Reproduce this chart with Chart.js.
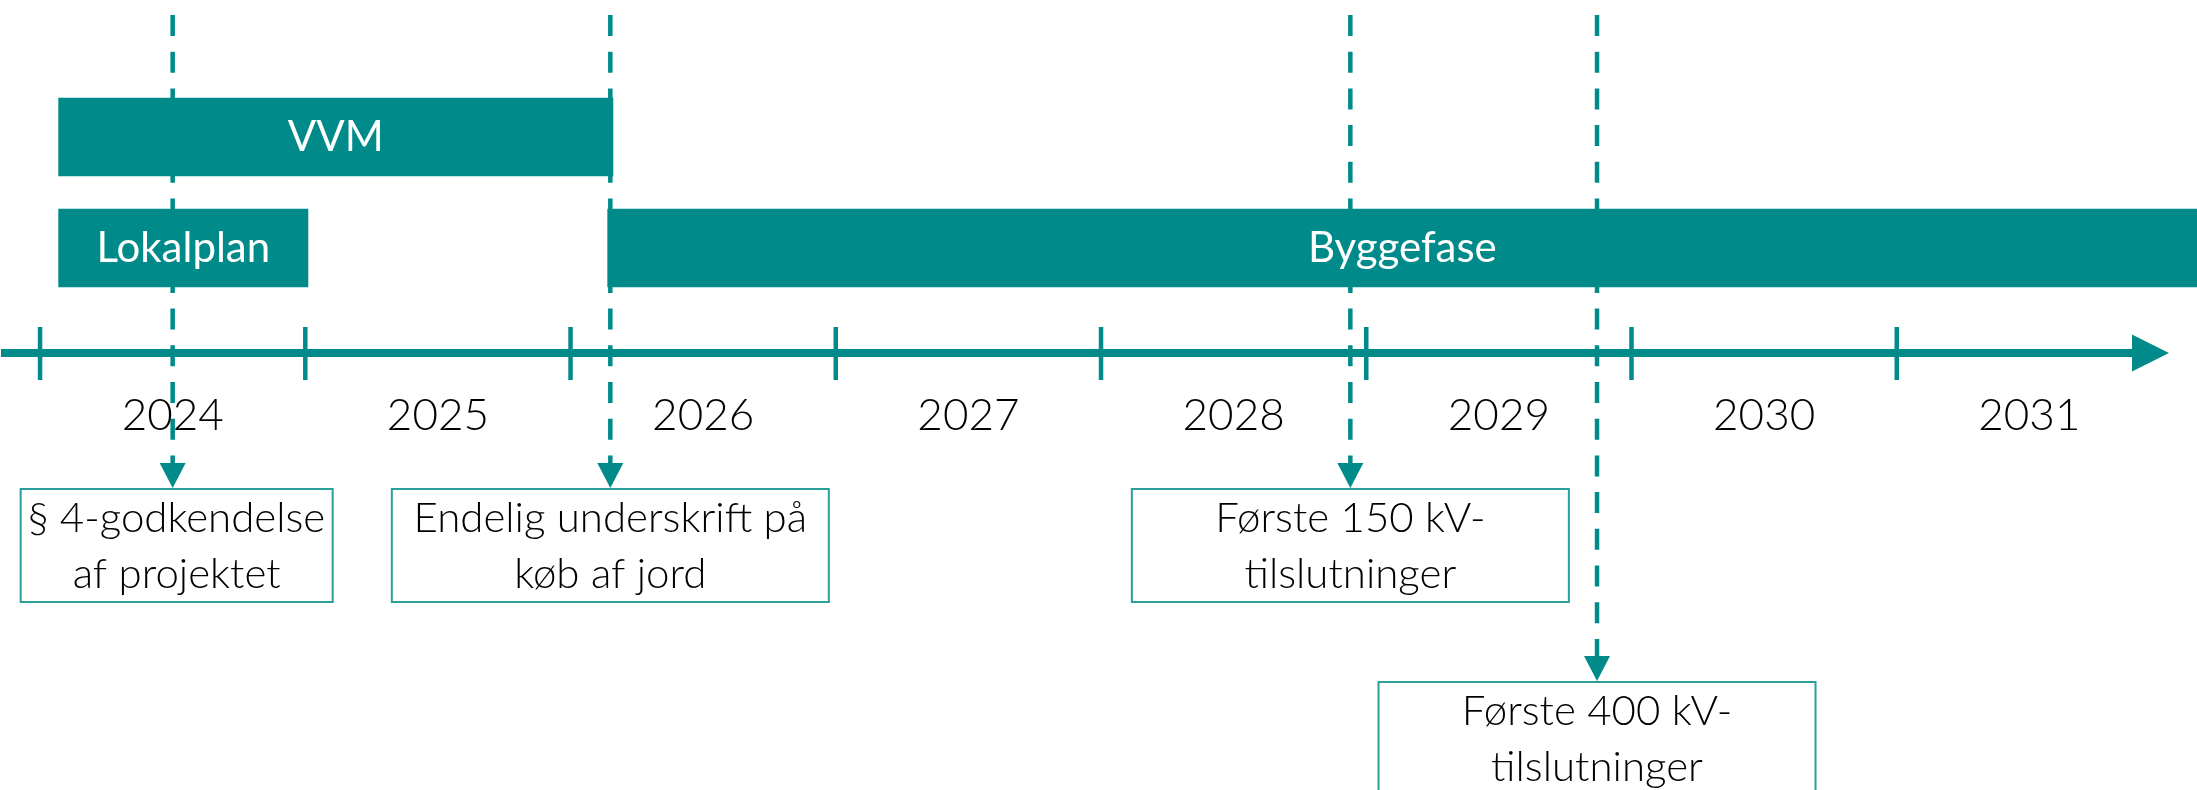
<!DOCTYPE html>
<html>
<head>
<meta charset="utf-8">
<script src="https://cdn.jsdelivr.net/npm/chart.js@4/dist/chart.umd.min.js"></script>
<style>
html,body{margin:0;padding:0;background:#ffffff;overflow:hidden}
#wrap{position:relative;width:2197px;height:790px}
</style>
</head>
<body>
<div id="wrap"><canvas id="c" width="2197" height="790"></canvas></div>
<script>
// ---------- data ----------
const rows = ['Række 1', 'Række 2'];
const phaseNames = ['VVM', 'Lokalplan', 'Byggefase'];
const phaseStart = [2024.07, 2024.07, 2026.14];
const phaseEnd = [2026.16, 2025.01, 2032.5];
const phaseRow = ['Række 1', 'Række 2', 'Række 2'];

const yearTicks = [2024, 2025, 2026, 2027, 2028, 2029, 2030, 2031];
const yearLabels = ['2024', '2025', '2026', '2027', '2028', '2029', '2030', '2031'];

const milestoneDates = [2024.5, 2026.15, 2028.94, 2029.87];
const milestoneText = [
  ['§ 4-godkendelse', 'af projektet'],
  ['Endelig underskrift på', 'køb af jord'],
  ['Første 150 kV-', 'tilslutninger'],
  ['Første 400 kV-', 'tilslutninger']
];
const milestoneTier = [0, 0, 0, 1];

// ---------- style / layout ----------
const TEAL = '#008B8A';
const BOX_BORDER = '#2a9f9c';
const TEXT = '#000000';
const FONT = 'Lato, "Open Sans", "Noto Sans", sans-serif';
const LAYOUT = {
  axisY: 353, axisW: 8, axisStartX: 1, arrowBaseX: 2132, arrowTipX: 2169, arrowHalf: 18.5,
  tickTop: 327, tickBottom: 380, tickW: 4.5,
  yearBaseline: 430, yearFont: '300 44px ' + FONT,
  dashTop: 15, dash: [21, 15.7], dashW: 4.5,
  headH: 26, headHalf: 13,
  boxTop: [489, 682], boxH: 113, boxW: [312, 437, 437, 437], boxShift: [4, 0, 0, 0],
  lineBaselines: [43, 99], boxFont: '300 42px ' + FONT,
  barFont: '42px ' + FONT, barTextOffset: 13.5
};

const timelinePlugin = {
  id: 'timeline',
  afterDatasetsDraw(chart) {
    const ctx = chart.ctx;
    const xs = chart.scales.x;
    const area = chart.chartArea;
    const L = LAYOUT;
    ctx.save();

    // dashed milestone lines
    ctx.strokeStyle = TEAL;
    ctx.lineWidth = L.dashW;
    ctx.setLineDash(L.dash);
    ctx.lineCap = 'butt';
    milestoneDates.forEach((d, i) => {
      const x = xs.getPixelForValue(d);
      const bottom = L.boxTop[milestoneTier[i]] - L.headH;
      ctx.beginPath();
      ctx.moveTo(x, L.dashTop);
      ctx.lineTo(x, bottom);
      ctx.stroke();
    });
    ctx.setLineDash([]);

    // bar labels
    const meta = chart.getDatasetMeta(0);
    ctx.fillStyle = '#ffffff';
    ctx.font = L.barFont;
    ctx.textAlign = 'center';
    ctx.textBaseline = 'alphabetic';
    meta.data.forEach((bar, i) => {
      const p = bar.getProps(['x', 'y', 'base'], true);
      const left = Math.max(Math.min(p.x, p.base), area.left);
      const right = Math.min(Math.max(p.x, p.base), area.right);
      ctx.fillText(phaseNames[i], (left + right) / 2, p.y + L.barTextOffset);
    });

    // time axis
    ctx.strokeStyle = TEAL;
    ctx.fillStyle = TEAL;
    ctx.lineWidth = L.axisW;
    ctx.beginPath();
    ctx.moveTo(L.axisStartX, L.axisY);
    ctx.lineTo(L.arrowBaseX + 1, L.axisY);
    ctx.stroke();
    ctx.beginPath();
    ctx.moveTo(L.arrowBaseX, L.axisY - L.arrowHalf);
    ctx.lineTo(L.arrowTipX, L.axisY);
    ctx.lineTo(L.arrowBaseX, L.axisY + L.arrowHalf);
    ctx.closePath();
    ctx.fill();

    ctx.lineWidth = L.tickW;
    yearTicks.forEach(v => {
      const x = xs.getPixelForValue(v);
      ctx.beginPath();
      ctx.moveTo(x, L.tickTop);
      ctx.lineTo(x, L.tickBottom);
      ctx.stroke();
    });

    ctx.fillStyle = TEXT;
    ctx.font = L.yearFont;
    ctx.textAlign = 'center';
    yearTicks.forEach((v, i) => {
      ctx.fillText(yearLabels[i], xs.getPixelForValue(v + 0.5), L.yearBaseline);
    });

    // milestone arrow heads and boxes
    milestoneDates.forEach((d, i) => {
      const x = xs.getPixelForValue(d);
      const top = L.boxTop[milestoneTier[i]];
      ctx.fillStyle = TEAL;
      ctx.beginPath();
      ctx.moveTo(x - L.headHalf, top - L.headH);
      ctx.lineTo(x + L.headHalf, top - L.headH);
      ctx.lineTo(x, top - 1);
      ctx.closePath();
      ctx.fill();

      const w = L.boxW[i];
      const cx = x + L.boxShift[i];
      ctx.strokeStyle = BOX_BORDER;
      ctx.lineWidth = 2;
      ctx.strokeRect(cx - w / 2, top, w, L.boxH);

      ctx.fillStyle = TEXT;
      ctx.font = L.boxFont;
      ctx.textAlign = 'center';
      milestoneText[i].forEach((line, j) => {
        ctx.fillText(line, cx, top + L.lineBaselines[j]);
      });
    });

    ctx.restore();
  }
};

new Chart(document.getElementById('c'), {
  type: 'bar',
  data: {
    labels: rows,
    datasets: [{
      label: 'Faser',
      data: phaseNames.map((n, i) => ({ x: [phaseStart[i], phaseEnd[i]], y: phaseRow[i] })),
      backgroundColor: TEAL,
      borderWidth: 0,
      borderSkipped: false,
      barThickness: 78
    }]
  },
  options: {
    indexAxis: 'y',
    responsive: false,
    devicePixelRatio: 1,
    animation: false,
    layout: { padding: { top: 81.5, bottom: 486.5, left: 0, right: 0 } },
    scales: {
      x: { type: 'linear', min: 2023.849, max: 2032.132, display: false },
      y: { type: 'category', labels: rows, display: false, offset: true }
    },
    plugins: { legend: { display: false }, tooltip: { enabled: false } }
  },
  plugins: [timelinePlugin]
});
</script>
</body>
</html>
